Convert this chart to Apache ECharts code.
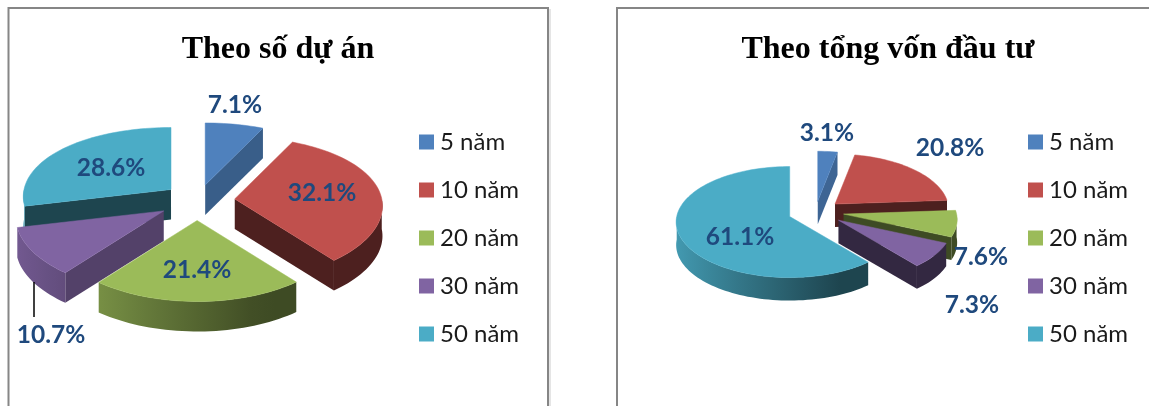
<!DOCTYPE html>
<html><head><meta charset="utf-8">
<style>html,body{margin:0;padding:0;background:#fff}#c{width:1149px;height:406px}</style>
<script src="https://cdn.jsdelivr.net/npm/echarts@6/dist/echarts.min.js"></script>
</head><body><div id="c"></div>
<script>
const categories = ['5 năm','10 năm','20 năm','30 năm','50 năm'];
const projectShares = [7.1,32.1,21.4,10.7,28.6];
const capitalShares = [3.1,20.8,7.6,7.3,61.1];
const titles = ['Theo số dự án','Theo tổng vốn đầu tư'];
const palette = ['#4F81BD','#C0504D','#9BBB59','#8064A2','#4BACC6'];

const panels = [
  {values:projectShares, cx:198, cy:201, rx:147, ryBack:62, ryFront:81, ex:37, ey:18.5, depth:30,
   nudge:[[-1,2],[0,0],[-1,1],[-3,0],[2,0]],
   labels:[[235,105],[322,193],[197,270],[51,335],[111,168]]},
  {values:capitalShares, cx:816, cy:211.6, rx:113, ryBack:50, ryFront:61, ex:28, ey:14.4, depth:23,
   nudge:[[-1,4],[-2,2],[0,0],[0,0],[0,0]],
   labels:[[827,133],[950,148],[981,257],[972,305],[740,237]]}
];
const RAD = Math.PI/180;
function shade(hex,b){
  const n=parseInt(hex.slice(1),16);
  const c=[(n>>16)&255,(n>>8)&255,n&255].map(v=>Math.round(v*b));
  return 'rgb('+c.join(',')+')';
}
function faceB(nx){ return nx<0.22?0.4:0.4+0.4*Math.pow((nx-0.22)/0.78,1.5); }
function wallB(s){ return s>0.4?0.4:0.4+0.5*(0.4-s)/1.4; }

function project(p,deg){
  const s=Math.sin(deg*RAD), v=-Math.cos(deg*RAD);
  const a=(p.ryFront+p.ryBack)/2, k=(p.ryFront-p.ryBack)/2;
  return [p.rx*s*(1+0.1*v), a*v+k*v*v];
}
function sliceRender(p,idx){
  return function(params,api){
    const value=api.value(0);
    const total=p.values.reduce((x,y)=>x+y,0);
    const before=p.values.slice(0,idx).reduce((x,y)=>x+y,0);
    const a=before/total*360, b=(before+value)/total*360, m=(a+b)/2;
    const tx=p.cx+p.ex*Math.sin(m*RAD)+p.nudge[idx][0], ty=p.cy-p.ey*Math.cos(m*RAD)+p.nudge[idx][1];
    const at=d=>{const q=project(p,d);return [tx+q[0],ty+q[1]];};
    const down=q=>[q[0],q[1]+p.depth];
    const col=palette[idx];
    const kids=[];
    const tip=[tx,ty];
    const face=(deg,nDeg)=>{
      if(-Math.cos(nDeg*RAD)<=0) return;
      const e=at(deg);
      kids.push({type:'polygon',shape:{points:[tip,e,down(e),down(tip)]},
        style:{fill:shade(col,faceB(Math.sin(nDeg*RAD)))}});
    };
    face(a,a-90); face(b,b+90);
    const w0=Math.max(a,90), w1=Math.min(b,270);
    if(w1>w0){
      const top=[],stopsDeg=[];
      for(let d=w0;d<w1;d+=2) top.push(at(d));
      top.push(at(w1));
      for(let i=0;i<=8;i++) stopsDeg.push(w0+(w1-w0)*i/8);
      const xs=top.map(q=>q[0]);
      const minX=Math.min(...xs), maxX=Math.max(...xs);
      const stops=stopsDeg.map(d=>({offset:Math.max(0,Math.min(1,(at(d)[0]-minX)/(maxX-minX||1))),
        color:shade(col,wallB(Math.sin(d*RAD)))})).sort((s,t)=>s.offset-t.offset);
      kids.push({type:'polygon',shape:{points:top.concat(top.slice().reverse().map(down))},
        style:{fill:{type:'linear',x:0,y:0,x2:1,y2:0,colorStops:stops}}});
    }
    const pts=[tip];
    for(let d=a;d<b;d+=2) pts.push(at(d));
    pts.push(at(b));
    kids.push({type:'polygon',shape:{points:pts},style:{fill:col,stroke:shade(col,1.03),lineWidth:0.5}});
    return {type:'group',children:kids};
  };
}
function labelRender(p){
  return function(params,api){
    const i=params.dataIndex;
    return {type:'text',style:{text:api.value(0).toFixed(1)+'%',x:p.labels[i][0],y:p.labels[i][1],
      align:'center',verticalAlign:'middle',fill:'#1F497D',font:'bold 24.5px Lato'}};
  };
}
const series=[];
panels.forEach(p=>{
  const total=p.values.reduce((x,y)=>x+y,0);
  let acc=0;
  const depthKey=p.values.map(v=>{const m=(acc+v/2)/total*360;acc+=v;return -Math.cos(m*RAD);});
  const rank=depthKey.map(k=>depthKey.filter(o=>o<k).length);
  p.values.forEach((v,i)=>{
    series.push({type:'custom',name:categories[i],coordinateSystem:'none',z:2+rank[i],silent:true,clip:false,
      itemStyle:{color:palette[i]},data:[[v]],renderItem:sliceRender(p,i)});
  });
  series.push({type:'custom',name:'nhãn',coordinateSystem:'none',z:20,silent:true,clip:false,
    data:p.values.map(v=>[v]),renderItem:labelRender(p)});
});
const legendBase={orient:'vertical',top:125,icon:'rect',itemWidth:15,itemHeight:15,itemGap:24,selectedMode:false,
  data:categories,textStyle:{fontFamily:'Lato',fontSize:24,lineHeight:15,color:'#1a1a1a',padding:[0,0,0,1]}};
const chart=echarts.init(document.getElementById('c'),null,{renderer:'canvas'});
chart.setOption({
  animation:false,backgroundColor:'#fff',
  title:[
    {text:titles[0],left:273,top:29,textAlign:'center',textStyle:{fontFamily:'Liberation Serif',fontWeight:'bold',fontSize:32,color:'#000'}},
    {text:titles[1],left:883,top:29,textAlign:'center',textStyle:{fontFamily:'Liberation Serif',fontWeight:'bold',fontSize:32,color:'#000'}}
  ],
  legend:[Object.assign({left:414},legendBase),Object.assign({left:1023},legendBase)],
  graphic:[
    {type:'polyline',shape:{points:[[8.5,406],[8.5,8],[548,8],[548,406]]},style:{stroke:'#868686',lineWidth:2,fill:null},z:1},
    {type:'polyline',shape:{points:[[550,9],[550,406]]},style:{stroke:'#dcdcdc',lineWidth:1.5,fill:null},z:1},
    {type:'polyline',shape:{points:[[617,406],[617,8],[1149,8]]},style:{stroke:'#868686',lineWidth:2,fill:null},z:1},
    {type:'line',shape:{x1:34,y1:282,x2:34,y2:317},style:{stroke:'#000',lineWidth:1.5},z:15}
  ],
  series:series
});
</script></body></html>
